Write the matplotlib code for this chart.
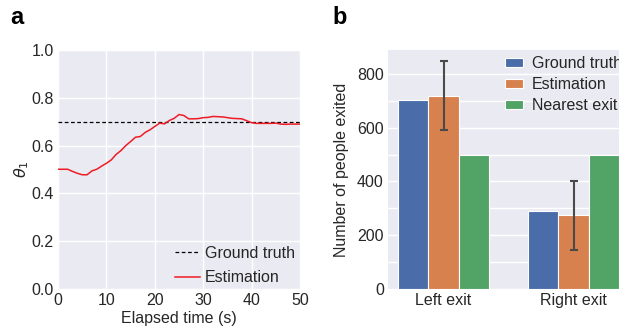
import matplotlib
matplotlib.use("Agg")
import matplotlib.pyplot as plt
import numpy as np

plt.rcParams['font.family'] = ['Liberation Sans', 'DejaVu Sans']
plt.rcParams['mathtext.fontset'] = 'dejavusans'

# ---- data panel a ----
time_s = [0, 2, 3, 4, 5, 6, 7, 8, 9, 10, 11, 12, 13, 14, 15, 16, 17, 18, 19, 20,
          21, 22, 23, 24, 25, 26, 27, 28, 29, 30, 31, 32, 33, 34, 35, 36, 37, 38,
          39, 40, 41, 42, 44, 45, 46, 47, 48, 50]
theta_est = [0.501, 0.501, 0.492, 0.484, 0.478, 0.478, 0.494, 0.501, 0.514, 0.526,
             0.540, 0.563, 0.579, 0.600, 0.617, 0.635, 0.638, 0.655, 0.666, 0.680,
             0.694, 0.691, 0.705, 0.714, 0.730, 0.726, 0.712, 0.712, 0.713, 0.717,
             0.718, 0.722, 0.721, 0.720, 0.717, 0.714, 0.713, 0.712, 0.704, 0.696,
             0.693, 0.693, 0.693, 0.694, 0.690, 0.689, 0.690, 0.690]
theta_true = 0.7

# ---- data panel b ----
exits = ['Left exit', 'Right exit']
ground_truth = [703, 291]
estimation = [718, 274]
estimation_err_low = [592, 146]
estimation_err_high = [848, 401]
nearest_exit = [500, 500]

BG = '#EAEAF2'
TXT = '#262626'
FS = 11.5
fig = plt.figure(figsize=(6.19, 3.31), dpi=100)

# panel a
ax1 = fig.add_axes([58/619, 1-289/331, 242/619, 239/331])
ax1.set_facecolor(BG)
ax1.grid(True, color='white', linewidth=1)
ax1.set_axisbelow(True)
for s in ax1.spines.values():
    s.set_visible(False)
ax1.axhline(theta_true, color='black', linestyle='--', linewidth=0.9, dashes=(3, 2),
            label='Ground truth')
ax1.plot(time_s, theta_est, color='#EE1C25', linewidth=1.1, label='Estimation')
ax1.set_xlim(0, 50)
ax1.set_ylim(0, 1.0)
ax1.set_xticks([0, 10, 20, 30, 40, 50])
ax1.set_yticks([0.0, 0.2, 0.4, 0.6, 0.8, 1.0])
ax1.tick_params(length=0, labelsize=FS, pad=3, colors=TXT)
ax1.set_xlabel('Elapsed time (s)', fontsize=FS, color=TXT, labelpad=2)
ax1.set_ylabel(r'$\theta_1$', fontsize=FS, color=TXT, labelpad=0)
leg1 = ax1.legend(loc='lower left', bbox_to_anchor=(0.483, 0.015), frameon=False,
                  fontsize=FS, handlelength=1.56, handletextpad=0.31,
                  labelspacing=0.62, borderaxespad=0, borderpad=0)
for t in leg1.get_texts():
    t.set_color(TXT)
fig.text(10/619, 1-24/331, 'a', fontsize=17, fontweight='bold', va='baseline')

# panel b
ax2 = fig.add_axes([388/619, 1-289/331, 231/619, 239/331])
ax2.set_facecolor(BG)
ax2.set_axisbelow(True)
for s in ax2.spines.values():
    s.set_visible(False)
x = np.arange(len(exits))
w = 0.231
cols = ['#4A6CA8', '#D7814F', '#52A366']
ax2.bar(x - w, ground_truth, w, color=cols[0], edgecolor='white', linewidth=0.8,
        label='Ground truth')
est = np.array(estimation)
yerr = np.array([est - np.array(estimation_err_low), np.array(estimation_err_high) - est])
ax2.bar(x, estimation, w, color=cols[1], edgecolor='white', linewidth=0.8,
        label='Estimation')
ax2.errorbar(x, estimation, yerr=yerr, fmt='none', ecolor='#4a4a4a', elinewidth=1.5,
             capsize=3, capthick=1.5)
ax2.bar(x + w, nearest_exit, w, color=cols[2], edgecolor='white', linewidth=0.8,
        label='Nearest exit')
ax2.set_xlim(-0.427, 1.35)
ax2.set_ylim(0, 889)
ax2.set_yticks([0, 200, 400, 600, 800])
ax2.set_yticks([100, 300, 500, 700], minor=True)
ax2.grid(True, which='both', axis='y', color='white', linewidth=1)
ax2.set_xticks(x)
ax2.set_xticklabels(exits)
ax2.tick_params(which='both', length=0, labelsize=FS, pad=3, colors=TXT)
ax2.set_ylabel('Number of people exited', fontsize=FS, color=TXT, labelpad=6)
leg2 = ax2.legend(loc='upper left', bbox_to_anchor=(0.506, 0.975), frameon=False,
                  fontsize=FS, handlelength=1.13, handleheight=0.5,
                  handletextpad=0.56, labelspacing=0.38, borderaxespad=0,
                  borderpad=0)
for t in leg2.get_texts():
    t.set_color(TXT)
fig.text(332/619, 1-24/331, 'b', fontsize=17, fontweight='bold', va='baseline')

fig.savefig('out.png', dpi=100)
